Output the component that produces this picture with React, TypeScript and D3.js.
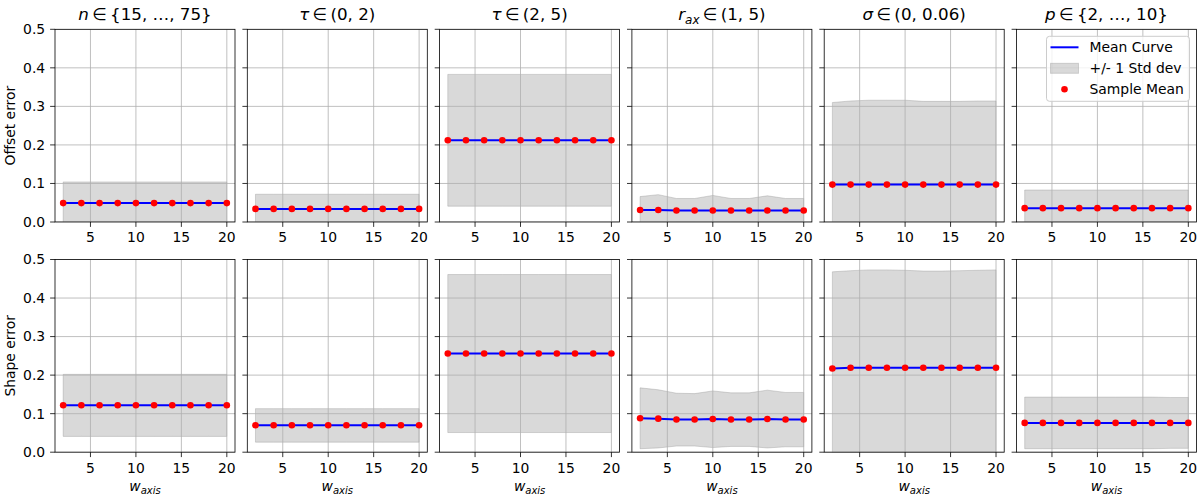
import * as d3 from "d3"

// x positions (w_axis)
const wAxis = [2, 4, 6, 8, 10, 12, 14, 16, 18, 20]
const xTicks = [5, 10, 15, 20]
const yTicks = [0, 0.1, 0.2, 0.3, 0.4, 0.5]

// panel titles: variable, subscript, range
const titleVar = ["n", "τ", "τ", "r", "σ", "p"]
const titleSub = ["", "", "", "ax", "", ""]
const titleSet = ["{15, …, 75}", "(0, 2)", "(2, 5)", "(1, 5)", "(0, 0.06)", "{2, …, 10}"]

const rowLabels = ["Offset error", "Shape error"]

// Offset error, one row per panel
const offsetMean = [
  [0.049, 0.049, 0.049, 0.049, 0.049, 0.049, 0.049, 0.049, 0.049, 0.049],
  [0.034, 0.034, 0.034, 0.034, 0.034, 0.034, 0.034, 0.034, 0.034, 0.034],
  [0.212, 0.212, 0.212, 0.212, 0.212, 0.212, 0.212, 0.212, 0.212, 0.212],
  [0.031, 0.031, 0.030, 0.030, 0.030, 0.030, 0.030, 0.030, 0.030, 0.030],
  [0.097, 0.097, 0.097, 0.097, 0.097, 0.097, 0.097, 0.097, 0.097, 0.097],
  [0.036, 0.036, 0.036, 0.036, 0.036, 0.036, 0.036, 0.036, 0.036, 0.036],
]
const offsetUpper = [
  [0.104, 0.104, 0.104, 0.104, 0.104, 0.104, 0.104, 0.104, 0.104, 0.104],
  [0.072, 0.072, 0.072, 0.072, 0.072, 0.072, 0.072, 0.072, 0.072, 0.072],
  [0.383, 0.383, 0.383, 0.383, 0.383, 0.383, 0.383, 0.383, 0.383, 0.383],
  [0.066, 0.071, 0.061, 0.061, 0.069, 0.061, 0.061, 0.068, 0.061, 0.061],
  [0.310, 0.314, 0.316, 0.316, 0.316, 0.313, 0.313, 0.313, 0.314, 0.314],
  [0.083, 0.083, 0.083, 0.083, 0.083, 0.083, 0.083, 0.083, 0.083, 0.083],
]
const offsetLower = [
  [-0.006, -0.006, -0.006, -0.006, -0.006, -0.006, -0.006, -0.006, -0.006, -0.006],
  [-0.005, -0.005, -0.005, -0.005, -0.005, -0.005, -0.005, -0.005, -0.005, -0.005],
  [0.041, 0.041, 0.041, 0.041, 0.041, 0.041, 0.041, 0.041, 0.041, 0.041],
  [-0.004, -0.009, -0.001, -0.001, -0.009, -0.001, -0.001, -0.008, -0.001, -0.001],
  [-0.116, -0.12, -0.122, -0.122, -0.122, -0.119, -0.119, -0.119, -0.12, -0.12],
  [-0.011, -0.011, -0.011, -0.011, -0.011, -0.011, -0.011, -0.011, -0.011, -0.011],
]

// Shape error, one row per panel
const shapeMean = [
  [0.122, 0.122, 0.122, 0.122, 0.122, 0.122, 0.122, 0.122, 0.122, 0.122],
  [0.070, 0.070, 0.070, 0.070, 0.070, 0.070, 0.070, 0.070, 0.070, 0.070],
  [0.256, 0.256, 0.256, 0.256, 0.256, 0.256, 0.256, 0.256, 0.256, 0.256],
  [0.088, 0.087, 0.085, 0.085, 0.086, 0.085, 0.085, 0.086, 0.085, 0.085],
  [0.217, 0.219, 0.219, 0.219, 0.219, 0.219, 0.219, 0.219, 0.219, 0.219],
  [0.076, 0.076, 0.076, 0.076, 0.076, 0.076, 0.076, 0.076, 0.076, 0.076],
]
const shapeUpper = [
  [0.202, 0.202, 0.202, 0.202, 0.202, 0.202, 0.202, 0.202, 0.202, 0.202],
  [0.113, 0.113, 0.113, 0.113, 0.113, 0.113, 0.113, 0.113, 0.113, 0.113],
  [0.461, 0.461, 0.461, 0.461, 0.461, 0.461, 0.461, 0.461, 0.461, 0.461],
  [0.167, 0.162, 0.153, 0.152, 0.159, 0.154, 0.154, 0.161, 0.155, 0.155],
  [0.468, 0.471, 0.473, 0.473, 0.472, 0.470, 0.470, 0.471, 0.472, 0.473],
  [0.143, 0.143, 0.143, 0.143, 0.143, 0.143, 0.143, 0.143, 0.142, 0.142],
]
const shapeLower = [
  [0.041, 0.041, 0.041, 0.041, 0.041, 0.041, 0.041, 0.041, 0.041, 0.041],
  [0.026, 0.026, 0.026, 0.026, 0.026, 0.026, 0.026, 0.026, 0.026, 0.026],
  [0.051, 0.051, 0.051, 0.051, 0.051, 0.051, 0.051, 0.051, 0.051, 0.051],
  [0.009, 0.011, 0.016, 0.016, 0.012, 0.015, 0.015, 0.011, 0.014, 0.014],
  [-0.034, -0.033, -0.034, -0.034, -0.034, -0.032, -0.032, -0.033, -0.034, -0.035],
  [0.009, 0.009, 0.009, 0.009, 0.009, 0.009, 0.009, 0.009, 0.010, 0.010],
]

const rowMean = [offsetMean, shapeMean]
const rowUpper = [offsetUpper, shapeUpper]
const rowLower = [offsetLower, shapeLower]

const FONT = "'DejaVu Sans', sans-serif"
const W = 1200
const H = 500
const panelLeft = 55
const panelW = 180
const panelGap = 12.3
const rowTop = [29.3, 259.5]
const panelH = 192.7
const tickLen = 4.9
const tickFs = 13.9

function Panel({ row, col }: { row: number; col: number }) {
  const x0 = panelLeft + col * (panelW + panelGap)
  const y0 = rowTop[row]
  const x = d3.scaleLinear().domain([1.1, 20.9]).range([x0, x0 + panelW])
  const y = d3.scaleLinear().domain([0, 0.5]).range([y0 + panelH, y0])
  const mean = rowMean[row][col]
  const up = rowUpper[row][col]
  const lo = rowLower[row][col]
  const pts = wAxis.map((w, i) => ({ w, m: mean[i], u: up[i], l: lo[i] }))
  const area = d3
    .area<(typeof pts)[number]>()
    .x((d) => x(d.w))
    .y0((d) => y(d.l))
    .y1((d) => y(d.u))
  const line = d3
    .line<(typeof pts)[number]>()
    .x((d) => x(d.w))
    .y((d) => y(d.m))
  const clipId = `clip-${row}-${col}`
  return (
    <g>
      <defs>
        <clipPath id={clipId}>
          <rect x={x0} y={y0} width={panelW} height={panelH} />
        </clipPath>
      </defs>
      <g clipPath={`url(#${clipId})`}>
        <path d={area(pts) || ""} fill="#808080" fillOpacity={0.3} stroke="#808080" strokeOpacity={0.3} strokeWidth={1} />
        {xTicks.map((t) => (
          <line key={"gx" + t} x1={x(t)} x2={x(t)} y1={y0} y2={y0 + panelH} stroke="#b0b0b0" strokeWidth={0.8} />
        ))}
        {yTicks.map((t) => (
          <line key={"gy" + t} x1={x0} x2={x0 + panelW} y1={y(t)} y2={y(t)} stroke="#b0b0b0" strokeWidth={0.8} />
        ))}
        <path d={line(pts) || ""} fill="none" stroke="#0000ff" strokeWidth={2} />
      </g>
      {pts.map((d, i) => (
        <circle key={"p" + i} cx={x(d.w)} cy={y(d.m)} r={3.3} fill="#ff0000" />
      ))}
      <rect x={x0} y={y0} width={panelW} height={panelH} fill="none" stroke="#000" strokeWidth={0.8} />
      {xTicks.map((t) => (
        <g key={"tx" + t}>
          <line x1={x(t)} x2={x(t)} y1={y0 + panelH} y2={y0 + panelH + tickLen} stroke="#000" strokeWidth={0.8} />
          <text x={x(t)} y={y0 + panelH + tickLen + 4.9} dy="0.76em" textAnchor="middle" fontSize={tickFs} fill="#000">
            {t}
          </text>
        </g>
      ))}
      {yTicks.map((t) => (
        <g key={"ty" + t}>
          <line x1={x0 - tickLen} x2={x0} y1={y(t)} y2={y(t)} stroke="#000" strokeWidth={0.8} />
          {col === 0 && (
            <text x={x0 - tickLen - 4.9} y={y(t)} dy="0.35em" textAnchor="end" fontSize={tickFs} fill="#000">
              {d3.format(".1f")(t)}
            </text>
          )}
        </g>
      ))}
      {row === 0 && (
        <text x={x0 + panelW / 2} y={y0 - 9} textAnchor="middle" fontSize={16.7} fill="#000">
          <tspan fontStyle="italic">{titleVar[col]}</tspan>
          {titleSub[col] && (
            <tspan fontStyle="italic" fontSize={12} dy={3.5}>
              {titleSub[col]}
            </tspan>
          )}
          <tspan dy={titleSub[col] ? -3.5 : 0}>{"\u2009∈\u2009" + titleSet[col]}</tspan>
        </text>
      )}
      {row === 1 && (
        <text x={x0 + panelW / 2} y={y0 + panelH + 39} textAnchor="middle" fontSize={tickFs} fill="#000">
          <tspan fontStyle="italic">w</tspan>
          <tspan fontStyle="italic" fontSize={10} dy={3}>
            axis
          </tspan>
        </text>
      )}
      {col === 0 && (
        <text
          transform={`translate(${15},${y0 + panelH / 2}) rotate(-90)`}
          textAnchor="middle"
          fontSize={tickFs}
          fill="#000"
        >
          {rowLabels[row]}
        </text>
      )}
    </g>
  )
}

function Legend() {
  const right = panelLeft + 5 * (panelW + panelGap) + panelW - 7
  const top = rowTop[0] + 7
  const bw = 143
  const bh = 65
  const lx = right - bw
  const rowsY = [top + 11, top + 32, top + 53]
  return (
    <g>
      <rect x={lx} y={top} width={bw} height={bh} rx={3} fill="#fff" fillOpacity={0.8} stroke="#cccccc" strokeWidth={1} />
      <line x1={lx + 4} x2={lx + 32} y1={rowsY[0]} y2={rowsY[0]} stroke="#0000ff" strokeWidth={2} />
      <rect x={lx + 4} y={rowsY[1] - 5} width={28} height={10} fill="#808080" fillOpacity={0.3} stroke="#808080" strokeOpacity={0.3} />
      <circle cx={lx + 18} cy={rowsY[2]} r={3.3} fill="#ff0000" />
      {["Mean Curve", "+/- 1 Std dev", "Sample Mean"].map((s, i) => (
        <text key={s} x={lx + 43} y={rowsY[i]} dy="0.35em" fontSize={tickFs} fill="#000">
          {s}
        </text>
      ))}
    </g>
  )
}

export default function App() {
  return (
    <div style={{ position: "absolute", left: 0, top: 0 }}>
      <svg width={W} height={H} style={{ fontFamily: FONT, display: "block" }}>
        <rect width={W} height={H} fill="#fff" />
        {[0, 1].map((r) => [0, 1, 2, 3, 4, 5].map((c) => <Panel key={`${r}-${c}`} row={r} col={c} />))}
        <Legend />
      </svg>
    </div>
  )
}
